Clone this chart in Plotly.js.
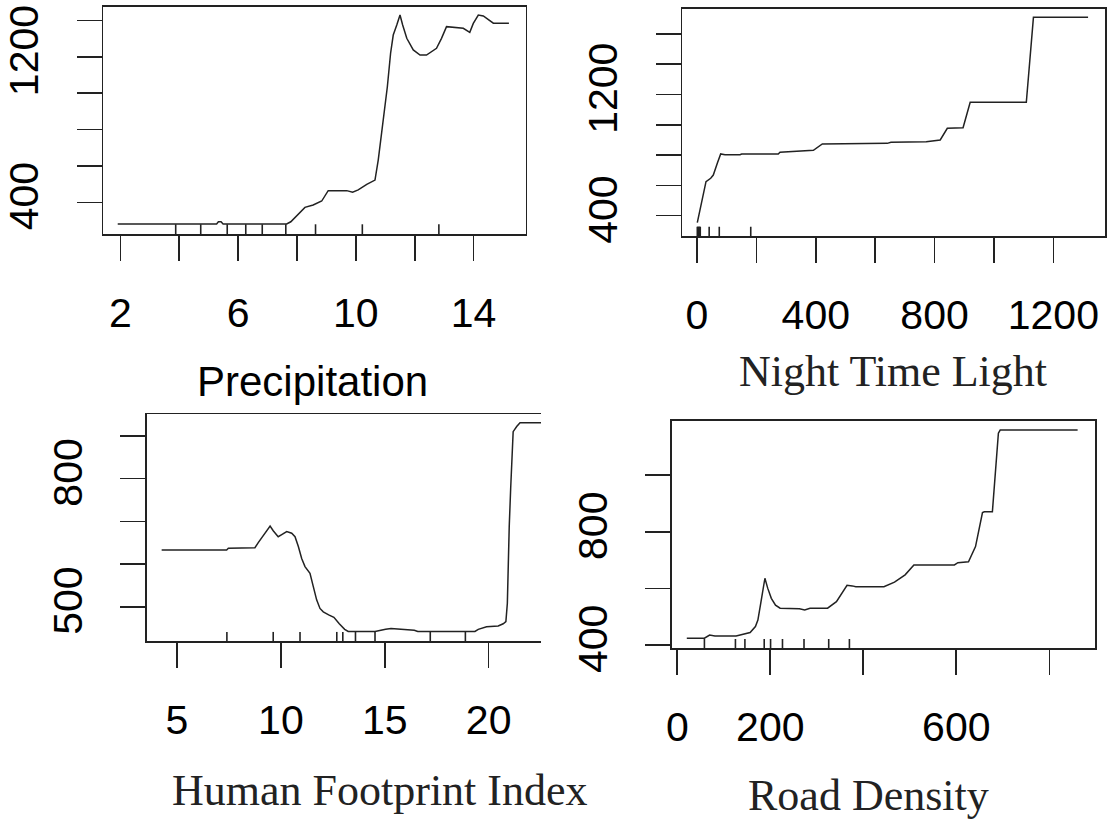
<!DOCTYPE html>
<html>
<head>
<meta charset="utf-8">
<script src="https://cdn.plot.ly/plotly-3.0.1.min.js"></script>
<style>html,body{margin:0;padding:0;background:#fff;}#chart{width:1112px;height:825px;}</style>
</head>
<body>
<div id="chart"></div>
<script>
// ---- Precipitation ----
const precipX = [1.91, 5.27, 5.33, 5.42, 5.49, 7.65, 7.79, 7.99, 8.27, 8.55, 8.84, 9.06, 9.69, 9.89, 10.08, 10.37, 10.65, 10.76, 10.88, 10.99, 11.07, 11.18, 11.27, 11.39, 11.50, 11.59, 11.73, 11.95, 12.18, 12.40, 12.74, 12.91, 13.08, 13.65, 13.87, 13.99, 14.16, 14.33, 14.67, 15.20];
const precipY = [281, 281, 293, 293, 281, 281, 293, 325, 372, 385, 407, 464, 464, 455, 468, 499, 522, 632, 779, 944, 1035, 1219, 1319, 1374, 1429, 1374, 1301, 1237, 1209, 1209, 1246, 1301, 1365, 1356, 1334, 1383, 1429, 1424, 1384, 1384];
const precipRug = [3.88, 4.73, 5.63, 6.26, 6.82, 7.62, 8.63, 10.22, 12.82];
const precipXTicks = [2, 4, 6, 8, 10, 12, 14];
const precipXText = ["2", "", "6", "", "10", "", "14"];
const precipYTicks = [400, 600, 800, 1000, 1200, 1400];
const precipYText = ["400", "", "", "", "1200", ""];

// ---- Night Time Light ----
const ntlX = [1, 7.7, 15.8, 24.6, 30.3, 46.1, 54.9, 68.4, 79.8, 94.3, 144.8, 150.5, 273.7, 279.5, 330, 392, 422, 641, 653, 772, 819, 843, 896, 920, 1109, 1133, 1317];
const ntlY = [354, 416, 504, 591, 624, 647, 668, 746, 807, 802, 802, 807, 807, 818, 822, 831, 873, 877, 884, 888, 899, 976, 980, 1148, 1148, 1708, 1708];
const ntlRug = [1, 3, 5, 7, 9, 11, 41, 75, 181];
const ntlXTicks = [0, 200, 400, 600, 800, 1000, 1200];
const ntlXText = ["0", "", "400", "", "800", "", "1200"];
const ntlYTicks = [400, 600, 800, 1000, 1200, 1400, 1600];
const ntlYText = ["400", "", "", "", "1200", "", ""];

// ---- Human Footprint Index ----
const hfiX = [4.26, 7.39, 7.47, 8.75, 8.91, 9.23, 9.48, 9.63, 9.87, 10.04, 10.28, 10.52, 10.68, 10.84, 11.0, 11.16, 11.40, 11.56, 11.72, 11.88, 12.04, 12.30, 12.55, 12.81, 13.07, 13.24, 14.53, 15.04, 15.30, 16.42, 16.59, 19.34, 19.50, 19.90, 20.46, 20.70, 20.83, 20.90, 20.94, 20.99, 21.06, 21.12, 21.18, 21.35, 21.51, 22.6];
const hfiY = [633, 633, 637, 638, 650, 672, 689, 678, 664, 669, 676, 672, 664, 641, 613, 594, 578, 547, 516, 496, 488, 481, 475, 460, 447, 442, 442, 447, 449, 445, 442, 442, 447, 453, 455, 460, 465, 508, 602, 687, 777, 867, 910, 922, 931, 931];
const hfiRug = [7.40, 9.63, 10.92, 12.69, 12.98, 13.59, 14.53, 17.19, 18.88];
const hfiXTicks = [5, 10, 15, 20];
const hfiXText = ["5", "10", "15", "20"];
const hfiYTicks = [500, 600, 700, 800, 900];
const hfiYText = ["500", "", "", "800", ""];

// ---- Road Density ----
const roadX = [20.4, 58.3, 69.5, 80.9, 126.5, 141.5, 156.6, 168, 173.3, 179.4, 188.4, 194.4, 202.2, 211.2, 221.1, 262.6, 274, 285.4, 323.2, 342.2, 353.5, 365, 376.3, 383.9, 444.3, 467.1, 489.9, 508.8, 595.9, 603.4, 626.2, 641.3, 656.3, 660.2, 677.6, 683, 690.5, 694.4, 860.9];
const roadY = [424, 424, 435, 432, 432, 438, 444, 465, 488, 547, 636, 601, 565, 541, 530, 528, 524, 530, 530, 553, 583, 611, 609, 606, 606, 622, 648, 683, 683, 691, 694, 748, 868, 871, 871, 983, 1149, 1160, 1160];
const roadRug = [58.3, 125, 145.4, 186.9, 200.6, 226.2, 272.5, 325.6, 370.1];
const roadXTicks = [0, 200, 400, 600, 800];
const roadXText = ["0", "200", "", "600", ""];
const roadYTicks = [400, 600, 800, 1000];
const roadYText = ["400", "", "800", ""];

const titles = ["Precipitation", "Night Time Light", "Human Footprint Index", "Road Density"];

const INK = '#222';
const SANS = 'Liberation Sans, Arial, sans-serif';
const SERIF = 'Liberation Serif, Times New Roman, serif';

function xAxis(domain, range, vals, text, anchor, mirror) {
  return {domain: domain, range: range, anchor: anchor, tickmode: 'array', tickvals: vals, ticktext: text,
    ticks: 'outside', ticklen: 25, tickwidth: 1.6, tickcolor: INK, showline: true, linecolor: INK, linewidth: 1.6,
    mirror: mirror, showgrid: false, zeroline: false, ticklabelstandoff: 17,
    tickfont: {family: SANS, size: 41, color: '#000'}};
}
function yAxis(domain, range, vals, text, anchor, mirror) {
  return {domain: domain, range: range, anchor: anchor, tickmode: 'array', tickvals: vals, ticktext: text,
    ticks: 'outside', ticklen: 25, tickwidth: 1.6, tickcolor: INK, showline: true, linecolor: INK, linewidth: 1.6,
    mirror: mirror, showgrid: false, zeroline: false, tickangle: -90, ticklabelstandoff: 22,
    tickfont: {family: SANS, size: 41, color: '#000'}};
}

const W = 1112, H = 825;
const dx = (a, b) => [a / W, b / W];
const dy = (top, bottom) => [1 - bottom / H, 1 - top / H];

const lineStyle = {color: INK, width: 1.5};
const traces = [
  {x: precipX, y: precipY, xaxis: 'x', yaxis: 'y', mode: 'lines', line: lineStyle, hoverinfo: 'skip'},
  {x: ntlX, y: ntlY, xaxis: 'x2', yaxis: 'y2', mode: 'lines', line: lineStyle, hoverinfo: 'skip'},
  {x: hfiX, y: hfiY, xaxis: 'x3', yaxis: 'y3', mode: 'lines', line: lineStyle, hoverinfo: 'skip'},
  {x: roadX, y: roadY, xaxis: 'x4', yaxis: 'y4', mode: 'lines', line: lineStyle, hoverinfo: 'skip'}
];

function rug(vals, xr, yr, len) {
  return vals.map(v => ({type: 'line', xref: xr, yref: yr + ' domain', x0: v, x1: v, y0: 0, y1: len,
    line: {color: INK, width: 1.6}}));
}
const shapes = [].concat(
  rug(precipRug, 'x', 'y', 0.044),
  rug(ntlRug, 'x2', 'y2', 0.041),
  rug(hfiRug, 'x3', 'y3', 0.04),
  rug(roadRug, 'x4', 'y4', 0.041)
);

const annotations = [
  {text: titles[0], x: 312.5 / W, y: 1 - 381 / H, font: {family: SANS, size: 42, color: '#000'}},
  {text: titles[1], x: 893 / W, y: 1 - 371 / H, font: {family: SERIF, size: 44, color: INK}},
  {text: titles[2], x: 380 / W, y: 1 - 790 / H, font: {family: SERIF, size: 44, color: INK}},
  {text: titles[3], x: 868 / W, y: 1 - 795 / H, font: {family: SERIF, size: 44, color: INK}}
].map(a => Object.assign({xref: 'paper', yref: 'paper', showarrow: false, xanchor: 'center', yanchor: 'middle'}, a));

const layout = {
  width: W, height: H, margin: {l: 0, r: 0, t: 0, b: 0},
  paper_bgcolor: '#fff', plot_bgcolor: '#fff', showlegend: false,
  xaxis: xAxis(dx(103.3, 525.7), [1.42, 15.77], precipXTicks, precipXText, 'y', true),
  yaxis: yAxis(dy(6.7, 234.3), [224.2, 1474.7], precipYTicks, precipYText, 'x', true),
  xaxis2: xAxis(dx(682.3, 1105), [-49.5, 1374], ntlXTicks, ntlXText, 'y2', true),
  yaxis2: yAxis(dy(9, 236), [266, 1763], ntlYTicks, ntlYText, 'x2', true),
  xaxis3: xAxis(dx(146.7, 541), [3.54, 22.52], hfiXTicks, hfiXText, 'y3', true),
  yaxis3: yAxis(dy(414.3, 641), [419.7, 950.6], hfiYTicks, hfiYText, 'x3', false),
  xaxis4: xAxis(dx(672, 1095.2), [-11.4, 898.7], roadXTicks, roadXText, 'y4', true),
  yaxis4: yAxis(dy(421, 648.3), [388.3, 1192], roadYTicks, roadYText, 'x4', true),
  shapes: shapes,
  annotations: annotations
};

Plotly.newPlot('chart', traces, layout, {staticPlot: true, displayModeBar: false});
</script>
</body>
</html>
